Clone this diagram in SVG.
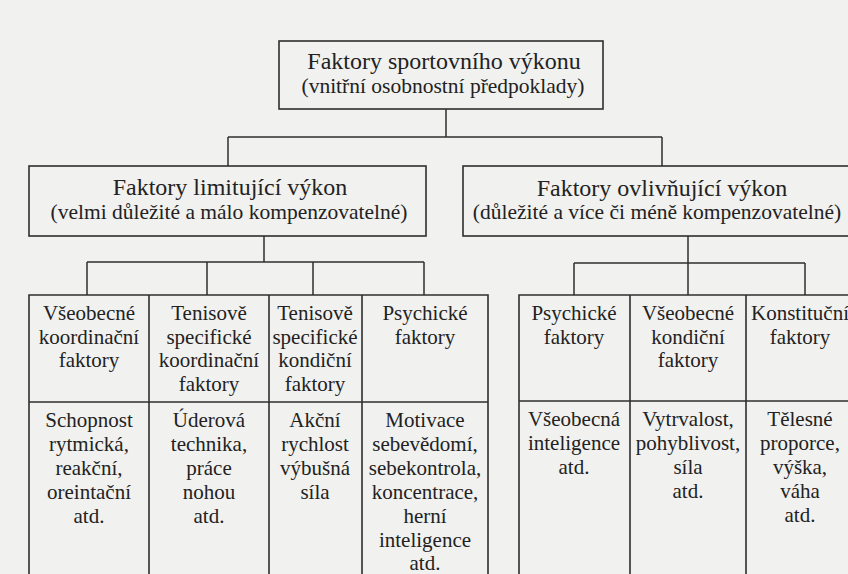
<svg xmlns="http://www.w3.org/2000/svg" width="848" height="574" viewBox="0 0 848 574">
<defs>
<style>
.bg{fill:#f1f1f0}
.box{fill:none;stroke:#2f2f2f;stroke-width:1.6}
.con{fill:none;stroke:#2f2f2f;stroke-width:1.5}
text{font-family:"Liberation Serif",Tinos,"Times New Roman",Times,"Noto Serif","DejaVu Serif",FreeSerif,serif;fill:#222;text-anchor:middle}
.t1{font-size:24px}
.t2{font-size:21.5px}
.c{font-size:21px}
</style>
</defs>
<rect class="bg" x="0" y="0" width="848" height="574"/>

<g id="connectors">
<path class="con" d="M446 109V137M228 137H662M228 137V166M662 137V166"/>
<path class="con" d="M264 236V262M87 262H424M87 262V295M207 262V295M313 262V295M424 262V295"/>
<path class="con" d="M688 236V295M574 263H805M574 263V295M805 263V295"/>
</g>

<g id="root">
<rect class="box" x="279" y="41" width="324" height="68"/>
<text class="t1" x="444" y="69">Faktory sportovního výkonu</text>
<text class="t2" x="443" y="93">(vnitřní osobnostní předpoklady)</text>
</g>

<g id="limit">
<rect class="box" x="29" y="166" width="397" height="70"/>
<text class="t1" x="230" y="195">Faktory limitující výkon</text>
<text class="t2" x="229" y="219">(velmi důležité a málo kompenzovatelné)</text>
</g>

<g id="influence">
<rect class="box" x="463" y="166" width="400" height="70"/>
<text class="t1" x="662" y="196">Faktory ovlivňující výkon</text>
<text class="t2" x="657" y="219">(důležité a více či méně kompenzovatelné)</text>
</g>

<g id="cells-left">
<path class="box" d="M29 574V295H488V574M149 295V574M269 295V574M362 295V574M29 402H488"/>
</g>
<g id="cells-right">
<path class="box" d="M519 574V295H860M630 295V574M746 295V574M519 401H860"/>
</g>

<g id="n1" class="c">
<text x="89" y="320">Všeobecné</text>
<text x="89" y="344">koordinační</text>
<text x="89" y="367">faktory</text>
<text x="89" y="427">Schopnost</text>
<text x="89" y="451">rytmická,</text>
<text x="89" y="475">reakční,</text>
<text x="89" y="499">oreintační</text>
<text x="89" y="523">atd.</text>
</g>

<g id="n2" class="c">
<text x="209" y="320">Tenisově</text>
<text x="209" y="344">specifické</text>
<text x="209" y="367">koordinační</text>
<text x="209" y="391">faktory</text>
<text x="209" y="427">Úderová</text>
<text x="209" y="451">technika,</text>
<text x="209" y="475">práce</text>
<text x="209" y="499">nohou</text>
<text x="209" y="523">atd.</text>
</g>

<g id="n3" class="c">
<text x="315" y="320">Tenisově</text>
<text x="315" y="344">specifické</text>
<text x="315" y="367">kondiční</text>
<text x="315" y="391">faktory</text>
<text x="315" y="427">Akční</text>
<text x="315" y="451">rychlost</text>
<text x="315" y="475">výbušná</text>
<text x="315" y="499">síla</text>
</g>

<g id="n4" class="c">
<text x="425" y="320">Psychické</text>
<text x="425" y="344">faktory</text>
<text x="425" y="427">Motivace</text>
<text x="425" y="451">sebevědomí,</text>
<text x="425" y="475">sebekontrola,</text>
<text x="425" y="499">koncentrace,</text>
<text x="425" y="523">herní</text>
<text x="425" y="547">inteligence</text>
<text x="425" y="570">atd.</text>
</g>

<g id="n5" class="c">
<text x="574" y="320">Psychické</text>
<text x="574" y="344">faktory</text>
<text x="574" y="426">Všeobecná</text>
<text x="574" y="450">inteligence</text>
<text x="574" y="474">atd.</text>
</g>

<g id="n6" class="c">
<text x="688" y="320">Všeobecné</text>
<text x="688" y="344">kondiční</text>
<text x="688" y="367">faktory</text>
<text x="688" y="426">Vytrvalost,</text>
<text x="688" y="450">pohyblivost,</text>
<text x="688" y="474">síla</text>
<text x="688" y="498">atd.</text>
</g>

<g id="n7" class="c">
<text x="800" y="320">Konstituční</text>
<text x="800" y="344">faktory</text>
<text x="800" y="426">Tělesné</text>
<text x="800" y="450">proporce,</text>
<text x="800" y="474">výška,</text>
<text x="800" y="498">váha</text>
<text x="800" y="522">atd.</text>
</g>
</svg>
